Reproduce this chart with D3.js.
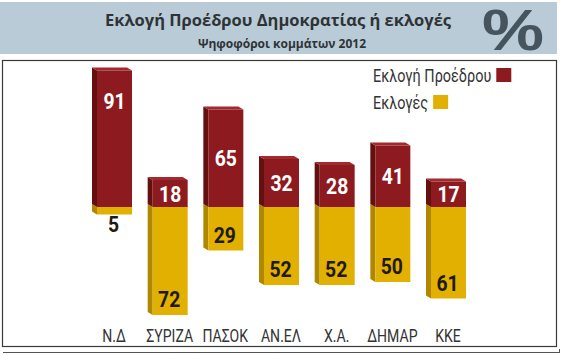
<!DOCTYPE html>
<html><head><meta charset="utf-8">
<script src="https://cdn.jsdelivr.net/npm/d3@7"></script>
<style>
html,body{margin:0;padding:0;background:#fff;}
svg{display:block;}
</style></head>
<body>
<svg id="c" width="570" height="356"></svg>
<script>
const categories = ["Ν.Δ", "ΣΥΡΙΖΑ", "ΠΑΣΟΚ", "ΑΝ.ΕΛ", "Χ.Α.", "ΔΗΜΑΡ", "ΚΚΕ"];
const presidentValues = [91, 18, 65, 32, 28, 41, 17];   // Εκλογή Προέδρου
const electionValues  = [5, 72, 29, 52, 52, 50, 61];    // Εκλογές
const seriesNames = ["Εκλογή Προέδρου", "Εκλογές"];
const title = "Εκλογή Προέδρου Δημοκρατίας ή εκλογές";
const subtitle = "Ψηφοφόροι κομμάτων 2012";

const svg = d3.select("#c");
const cond = "Roboto,'DejaVu Sans',sans-serif";
const humanist = "'Open Sans','Noto Sans',sans-serif";

const RED = "#8d1a1f", RED_SIDE = "#64100f", RED_TOP = "#a22a2e";
const YEL = "#e2b000", YEL_SIDE = "#b08800";

// condensed text helper
function ctext(sel, px, py, s) {
  return sel.append("text").attr("transform", `translate(${px},${py}) scale(${s},1)`);
}

// Header band
svg.append("rect").attr("x", 0).attr("y", 2).attr("width", 557).attr("height", 52).attr("fill", "#b9cbd7");
svg.append("text").attr("x", 278).attr("y", 26).attr("text-anchor", "middle")
  .attr("font-family", humanist).attr("font-weight", "bold").attr("font-size", 16.5)
  .attr("fill", "#2f3336").text(title);
svg.append("text").attr("x", 282).attr("y", 48).attr("text-anchor", "middle")
  .attr("font-family", humanist).attr("font-weight", "bold").attr("font-size", 12)
  .attr("fill", "#2f3336").text(subtitle);
svg.append("text").attr("x", 482).attr("y", 50)
  .attr("font-family", "'Liberation Sans',Arial,sans-serif").attr("font-weight", "bold").attr("font-size", 58)
  .attr("textLength", 62).attr("lengthAdjust", "spacingAndGlyphs")
  .attr("fill", "#46545e").text("%");

// Frame
svg.append("rect").attr("x", 2.5).attr("y", 60.5).attr("width", 554).attr("height", 286)
  .attr("fill", "#fff").attr("stroke", "#3a3a3a").attr("stroke-width", 1.2);
svg.append("line").attr("x1", 3).attr("x2", 560).attr("y1", 352.5).attr("y2", 352.5)
  .attr("stroke", "#555").attr("stroke-width", 1);
svg.append("line").attr("x1", 559.5).attr("x2", 559.5).attr("y1", 349).attr("y2", 353)
  .attr("stroke", "#555").attr("stroke-width", 1);

// Scales
const x = d3.scalePoint().domain(categories).range([114.5, 448.5]);
const y = d3.scaleLinear().domain([-100, 100]).range([357, 57]);
const W = 35, DX = 5, DY = 3;

const data = categories.map((c, i) => ({c, p: presidentValues[i], e: electionValues[i]}));

function sidePath(x0, yt, yb) {
  return `M${x0},${yt} L${x0 - DX},${yt - DY} L${x0 - DX},${yb - DY} L${x0},${yb} Z`;
}
function topPath(x0, yt) {
  return `M${x0},${yt} L${x0 - DX},${yt - DY} L${x0 + W - DX},${yt - DY} L${x0 + W},${yt} Z`;
}

const g = svg.append("g");
const bars = g.selectAll("g.bar").data(data).join("g").attr("class", "bar");

// Yellow (Εκλογές) downward
bars.append("path").attr("d", d => sidePath(x(d.c) - W / 2, y(0), y(-d.e))).attr("fill", YEL_SIDE);
bars.append("rect").attr("x", d => x(d.c) - W / 2).attr("y", y(0))
  .attr("width", W).attr("height", d => y(-d.e) - y(0)).attr("fill", YEL);
// Red (Εκλογή Προέδρου) upward
bars.append("path").attr("d", d => sidePath(x(d.c) - W / 2, y(d.p), y(0))).attr("fill", RED_SIDE);
bars.append("path").attr("d", d => topPath(x(d.c) - W / 2, y(d.p))).attr("fill", RED_TOP);
bars.append("rect").attr("x", d => x(d.c) - W / 2).attr("y", d => y(d.p))
  .attr("width", W).attr("height", d => y(0) - y(d.p)).attr("fill", RED);

// Value labels
bars.each(function(d) {
  const b = d3.select(this);
  const hp = y(0) - y(d.p);
  const cyp = hp > 100 ? y(d.p) + 30 : (y(d.p) + y(0)) / 2;
  ctext(b, x(d.c), cyp + 8, 0.86)
    .attr("text-anchor", "middle").attr("font-family", cond).attr("font-weight", "bold")
    .attr("font-size", 22.5).attr("fill", "#fff").text(d.p);
  const he = y(-d.e) - y(0);
  const cye = he < 20 ? y(-d.e) + 9 : y(-d.e) - 16;
  ctext(b, x(d.c) - 1, cye + 8, 0.86)
    .attr("text-anchor", "middle").attr("font-family", cond).attr("font-weight", "bold")
    .attr("font-size", 22.5).attr("fill", "#1f1a10").text(d.e);
});

// Category axis (labels only)
const axis = svg.append("g").attr("transform", "translate(0,342)")
  .call(d3.axisBottom(x).tickSize(0).tickPadding(0));
axis.select(".domain").remove();
axis.selectAll("text").attr("dy", 0).attr("y", 0).attr("font-family", cond).attr("font-size", 19)
  .attr("fill", "#333").attr("transform", "translate(-1,0) scale(0.74,1)");

// Legend
const legend = svg.append("g");
const legCols = [RED, YEL];
const legY = [75, 102];
seriesNames.forEach((n, i) => {
  const t = ctext(legend, 373, legY[i] + 6.5, 0.76)
    .attr("font-family", cond).attr("font-size", 19).attr("fill", "#333").text(n);
  const w = t.node().getComputedTextLength() * 0.76;
  legend.append("rect").attr("x", 373 + w + 5).attr("y", legY[i] - 7)
    .attr("width", 15).attr("height", 14).attr("fill", legCols[i]);
});
</script>
</body></html>
